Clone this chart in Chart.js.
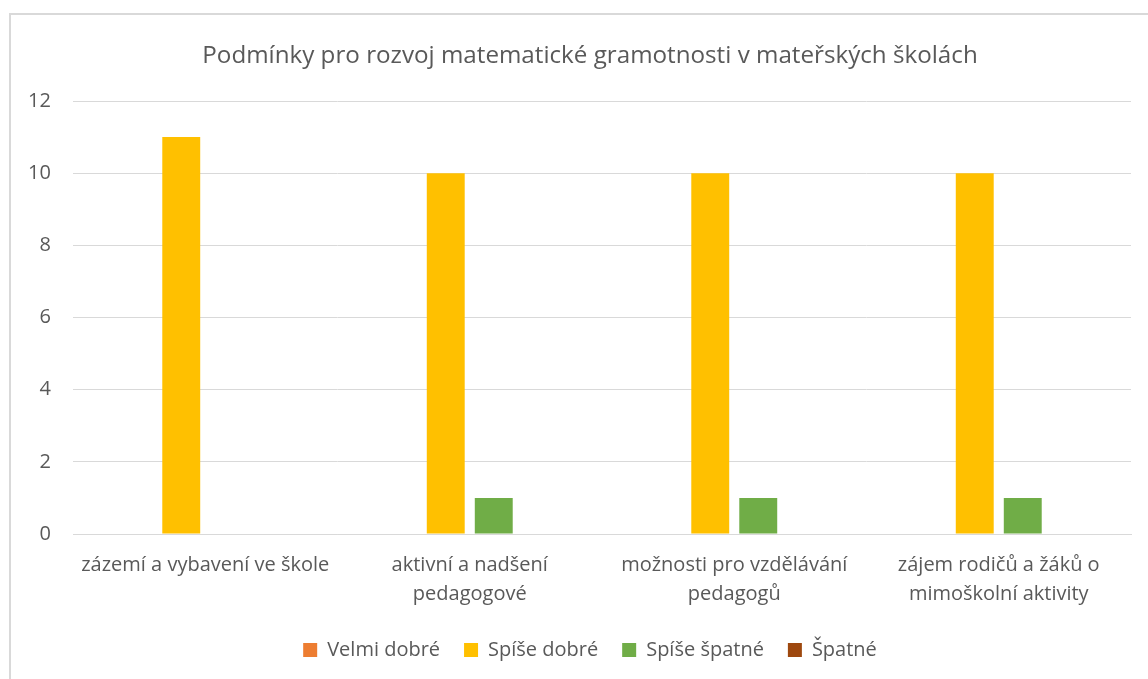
<!DOCTYPE html>
<html>
<head>
<meta charset="utf-8">
<script src="https://cdn.jsdelivr.net/npm/chart.js@4.4.1/dist/chart.umd.min.js"></script>
<style>
  html, body { margin:0; padding:0; background:#fff; }
  #wrap { position:relative; width:1148px; height:679px; overflow:hidden; }
  #frame { position:absolute; left:9px; top:13px; width:1200px; height:720px; border:2px solid #d9d9d9; box-sizing:border-box; }
  #chartBox { position:absolute; left:0; top:0; width:1148px; height:679px; }
</style>
</head>
<body>
<div id="wrap">
  <div id="frame"></div>
  <div id="chartBox"><canvas id="c"></canvas></div>
</div>
<script>
// categories (multi-line labels as in the original)
const categories = [
  "zázemí a vybavení ve škole",
  ["aktivní a nadšení", "pedagogové"],
  ["možnosti pro vzdělávání", "pedagogů"],
  ["zájem rodičů a žáků o", "mimoškolní aktivity"]
];
const seriesNames = ["Velmi dobré", "Spíše dobré", "Spíše špatné", "Špatné"];
const velmiDobre = [0, 0, 0, 0];
const spiseDobre = [11, 10, 10, 10];
const spiseSpatne = [0, 1, 1, 1];
const spatne = [0, 0, 0, 0];
const seriesColors = ["#ED7D31", "#FFC000", "#70AD47", "#9E480E"];
const yTicks = [0, 2, 4, 6, 8, 10, 12];

const txt = "#595959";
const font = "'Open Sans', 'DejaVu Sans', sans-serif";
const values = [velmiDobre, spiseDobre, spiseSpatne, spatne];

const ctx = document.getElementById("c").getContext("2d");
new Chart(ctx, {
  type: "bar",
  data: {
    labels: categories,
    datasets: seriesNames.map((name, i) => ({
      label: name,
      data: values[i],
      backgroundColor: seriesColors[i],
      borderWidth: 0,
      categoryPercentage: 0.726,
      barPercentage: 0.79
    }))
  },
  options: {
    responsive: true,
    maintainAspectRatio: false,
    animation: false,
    layout: { padding: { left: 49, right: 17, top: 42, bottom: 9 } },
    plugins: {
      title: {
        display: true,
        text: "Podmínky pro rozvoj matematické gramotnosti v mateřských školách",
        color: txt,
        font: { family: font, size: 24.2, weight: "normal" },
        padding: { top: 0, bottom: 30 }
      },
      legend: {
        position: "bottom",
        labels: {
          color: txt,
          font: { family: font, size: 20 },
          boxWidth: 14,
          boxHeight: 14,
          padding: 24
        }
      },
      tooltip: { enabled: false }
    },
    scales: {
      x: {
        afterFit: s => { s.height -= 10; },
        grid: { display: false, drawTicks: false },
        border: { display: true, color: "#d9d9d9", width: 1 },
        ticks: {
          color: txt,
          font: { family: font, size: 20, lineHeight: 1.45 },
          padding: 17,
          maxRotation: 0,
          autoSkip: false
        }
      },
      y: {
        min: 0,
        max: 12,
        // labels sit left of a narrow axis box so the title/legend centre like the original
        afterFit: s => { s.width = 24; },
        afterBuildTicks: s => { s.ticks = yTicks.map(v => ({ value: v })); },
        grid: { color: "#d9d9d9", lineWidth: 1, drawTicks: false },
        border: { display: false },
        ticks: {
          color: txt,
          font: { family: font, size: 20 },
          mirror: true,
          crossAlign: "far",
          padding: -45
        }
      }
    }
  }
});
</script>
</body>
</html>
